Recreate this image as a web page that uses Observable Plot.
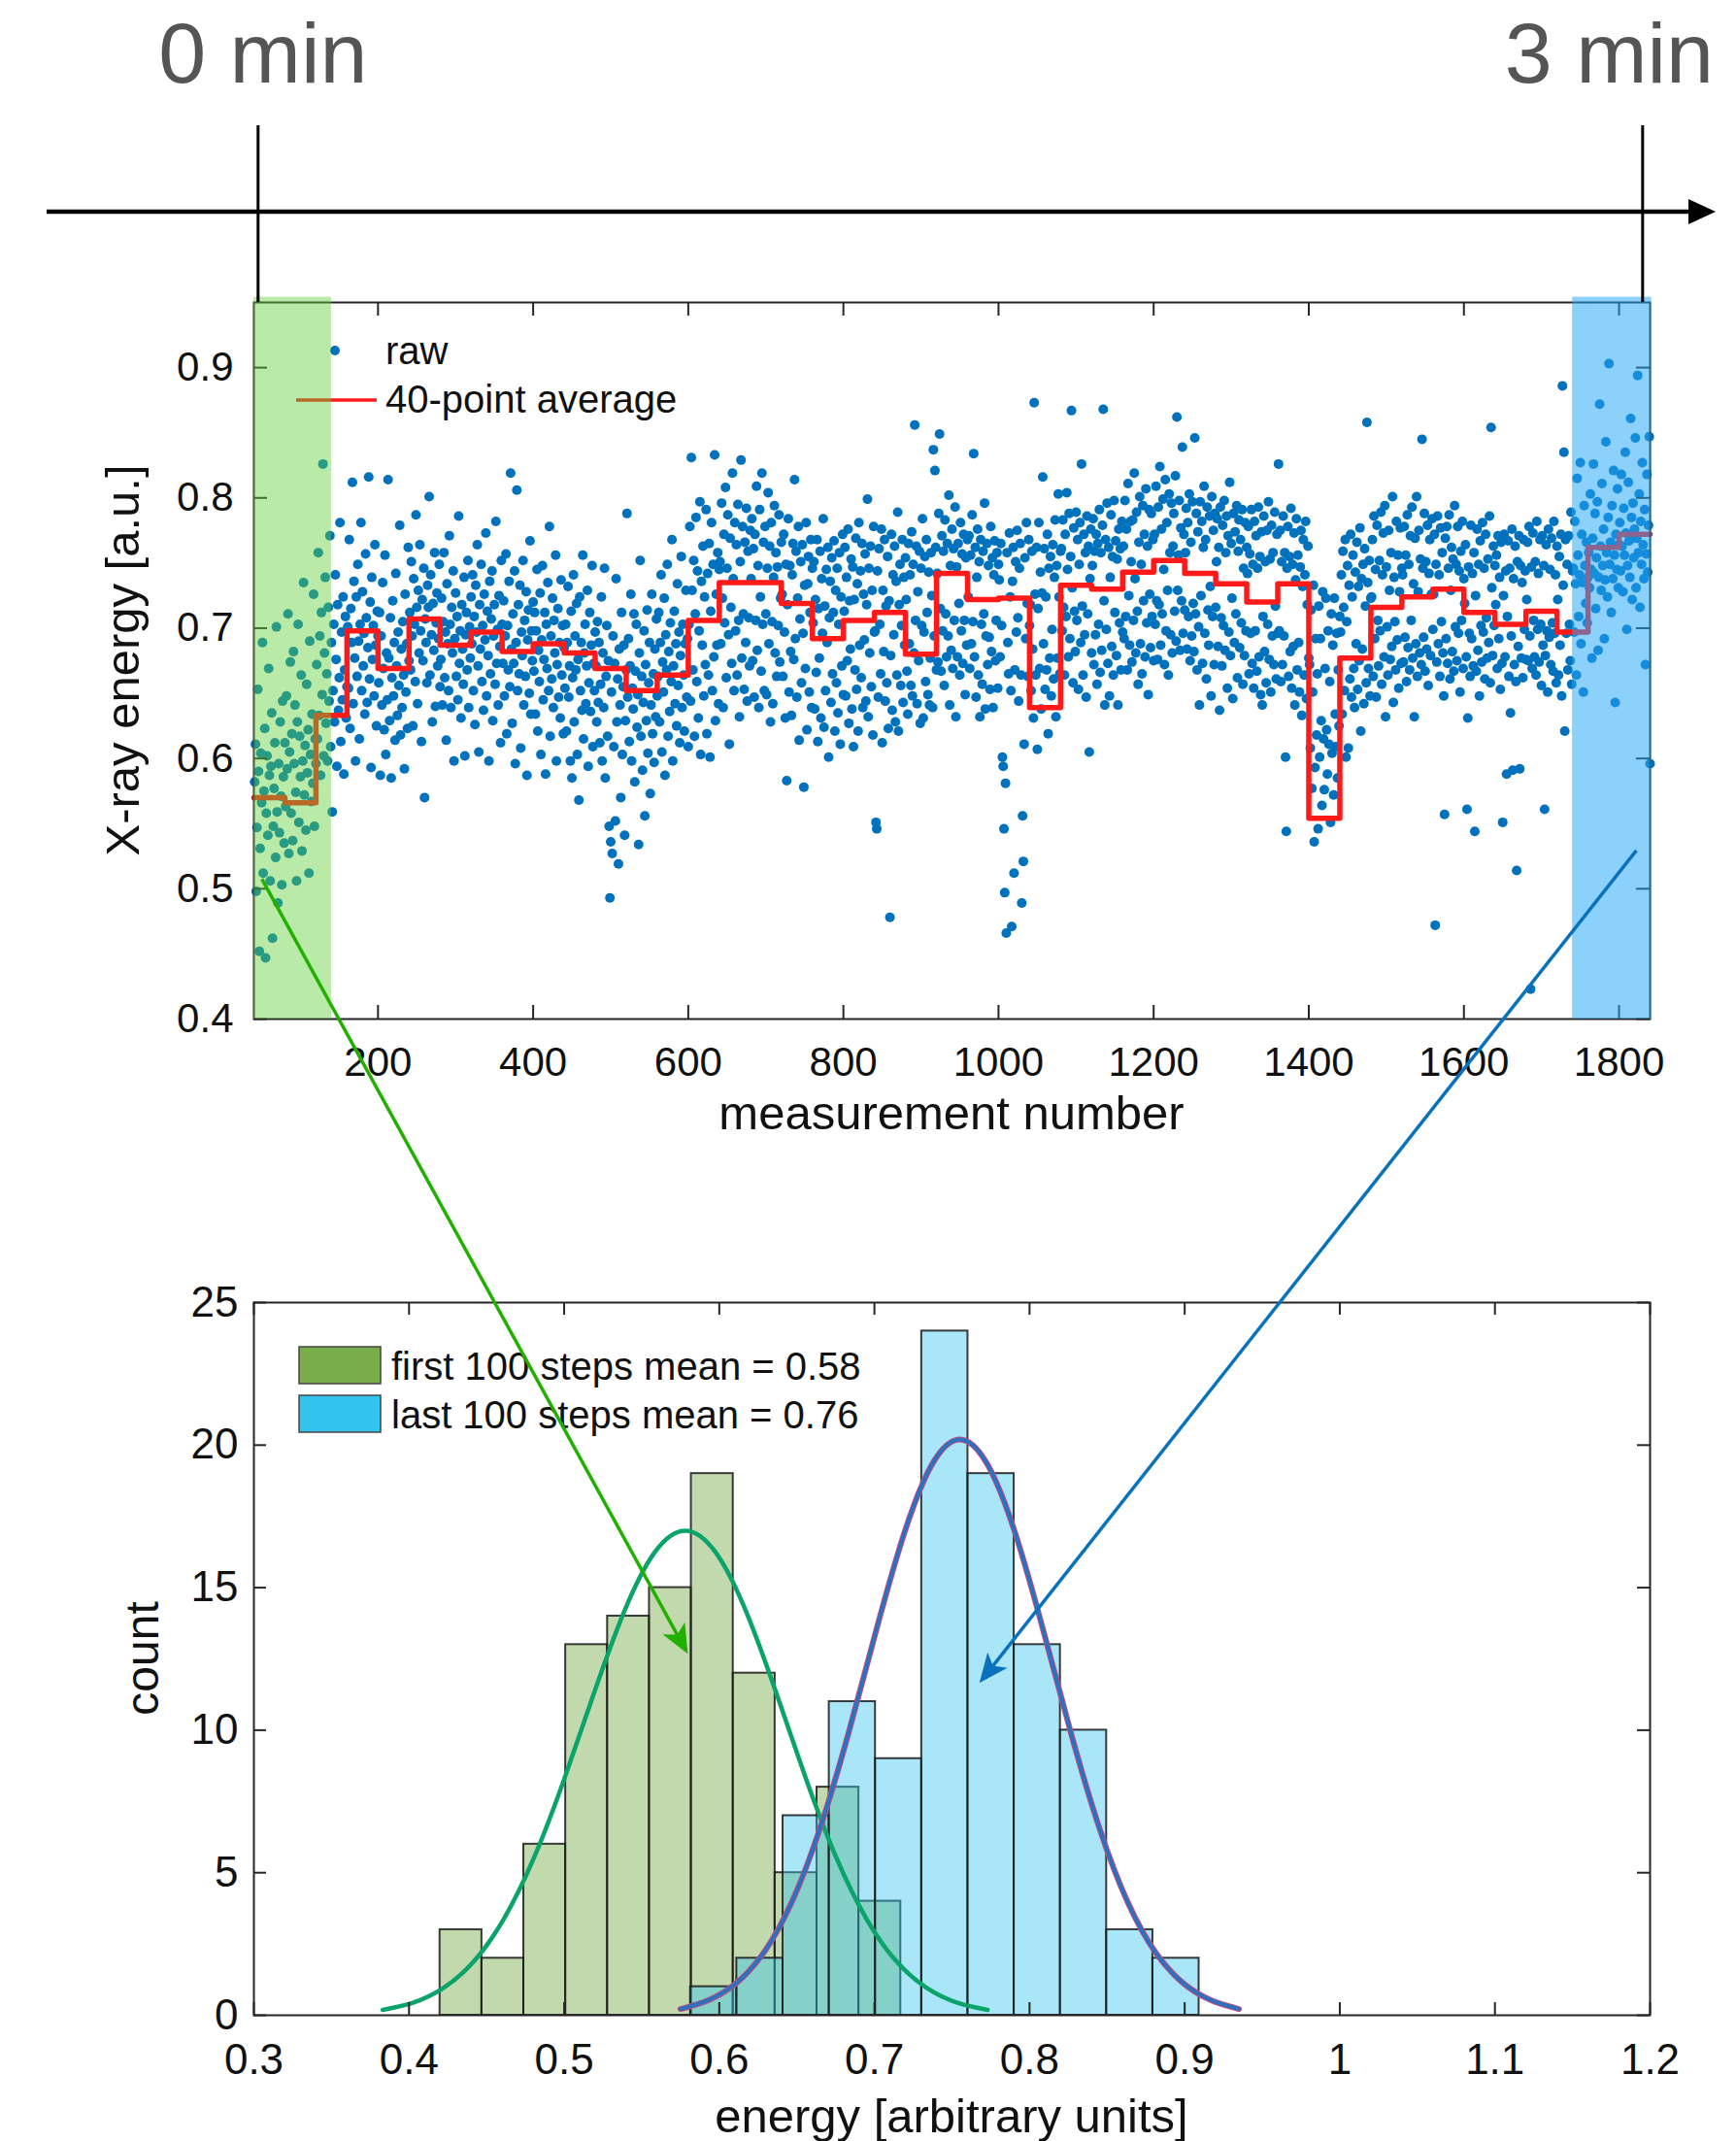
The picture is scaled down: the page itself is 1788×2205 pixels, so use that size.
<!DOCTYPE html>
<html><head><meta charset="utf-8">
<script src="https://cdn.jsdelivr.net/npm/d3@7"></script>
<script src="https://cdn.jsdelivr.net/npm/@observablehq/plot@0.6"></script>
<style>
html,body{margin:0;padding:0;background:#fff;overflow:hidden;}
#wrap{position:relative;width:1788px;height:2205px;font-family:"Liberation Sans",Arial,Helvetica,sans-serif;}
#wrap svg{position:absolute;left:0;}
</style></head><body><div id="wrap"></div>
<script>
// ---------- DATA ----------
// raw X-ray energy, one row per 40 measurements (thousandths), measurements 41..1840
const rawBlocks = [
"582 611 498 547 653 590 452 531 604 566 689 512 575 623 447 558 602 541 669 587 506 594 635 462 548 577 612 524 701 559 489 596 543 628 571 503 644 586 535 612",
"563 648 592 711 527 605 674 558 619 537 682 596 641 574 506 628 703 551 617 586 664 529 598 735 572 610 545 657 589 622 512 690 603 567 634 581 726 548 615 596",
"672 615 758 633 694 587 712 649 826 602 681 739 627 665 598 716 644 771 609 689 559 652 703 628 741 676 594 718 637 662 781 613 697 645 724 588 668 709 631 655",
"701 654 768 623 715 689 812 642 736 677 598 724 663 749 690 615 703 781 652 728 671 696 634 757 708 643 685 816 661 720 593 739 676 702 648 764 687 625 713 694",
"658 712 587 694 641 735 669 622 756 603 681 645 814 677 629 708 585 662 721 648 689 614 742 671 633 697 656 779 618 684 639 705 664 592 726 651 688 623 762 675",
"712 668 751 694 625 738 703 659 787 716 642 729 681 764 698 613 722 675 746 570 707 689 658 733 716 801 664 741 695 628 719 683 758 640 704 727 671 692 749 655",
"676 723 641 705 758 662 697 614 734 688 652 771 703 639 716 681 744 598 692 727 663 709 645 786 673 698 631 718 684 657 739 602 695 712 668 752 639 701 677 724",
"688 741 652 709 626 733 697 764 671 605 718 684 749 659 702 637 726 691 773 648 713 679 598 736 665 707 744 629 694 718 657 782 673 699 641 725 686 612 752 703",
"673 721 648 694 757 619 702 668 736 655 819 684 627 711 673 744 596 689 806 652 718 665 733 608 697 679 752 641 706 663 728 587 691 714 650 767 634 698 675 720",
"667 712 634 698 745 621 683 659 727 603 691 748 645 676 712 588 703 669 735 652 778 617 694 661 723 639 706 681 756 598 672 715 647 689 631 737 664 702 619 685",
"654 703 621 689 732 647 671 598 713 585 662 741 628 694 668 719 603 676 568 724 652 689 637 756 615 681 703 642 671 729 594 658 712 636 687 748 609 673 652 697",
"671 628 705 643 689 612 657 724 598 681 639 746 585 663 702 617 675 548 493 536 651 527 694 609 673 552 738 628 661 519 684 641 570 712 603 655 687 541 629 668",
"788 647 692 613 671 726 598 654 638 711 582 667 703 624 649 534 681 752 617 663 591 643 698 556 672 629 714 604 658 689 573 641 726 619 665 597 684 632 707 648",
"663 712 628 689 741 605 674 651 723 587 695 668 749 617 682 636 704 659 768 598 671 713 642 688 625 734 656 697 612 679 755 639 703 664 621 688 729 647 692 609",
"703 778 644 831 729 668 752 617 711 785 659 744 631 698 797 603 736 687 763 648 724 672 791 619 742 664 765 601 713 781 652 749 678 833 629 726 687 758 642 745",
"751 688 796 723 639 772 704 808 662 746 787 695 611 769 716 673 819 738 652 781 698 764 664 795 706 632 751 829 677 778 711 653 766 689 792 644 759 708 671 775",
"738 784 675 761 647 772 706 809 683 748 639 791 724 667 819 703 766 652 778 711 649 746 804 688 763 628 781 705 642 739 794 681 758 663 747 702 787 674 723 766",
"726 663 772 697 631 749 583 718 784 651 748 682 633 741 765 676 814 692 759 647 723 778 614 707 751 658 764 696 578 733 669 781 622 734 755 651 712 768 639 746",
"704 751 638 722 666 768 613 715 677 759 631 738 696 784 624 717 652 745 689 762 601 708 736 643 754 665 712 767 621 729 658 746 635 703 758 611 724 671 772 649",
"713 762 648 739 675 776 627 721 684 753 638 747 609 722 668 769 653 734 621 781 687 744 662 765 639 726 691 757 644 718 799 632 746 681 763 655 729 618 778 697",
"698 551 546 744 647 761 703 665 776 612 729 682 768 644 717 658 755 623 721 478 679 772 637 741 695 763 628 736 664 789 621 718 749 656 702 768 643 739 687 754",
"722 667 634 765 688 741 656 774 648 749 681 856 706 763 642 728 675 759 627 746 702 784 631 697 755 659 768 712 649 743 641 677 758 725 639 837 694 821 762 668",
"742 674 788 849 715 667 771 698 759 656 783 711 678 765 694 802 641 748 683 776 669 761 706 793 632 747 678 765 719 664 781 698 757 673 772 706 649 754 687 768",
"724 771 669 756 688 787 705 834 678 762 647 739 776 664 751 632 768 703 657 759 711 796 638 694 765 672 748 693 653 778 682 754 639 741 767 675 706 758 654 749",
"737 678 765 702 601 594 546 497 581 466 758 689 665 773 724 652 471 736 762 512 668 751 697 775 708 644 746 765 664 489 556 521 611 754 692 781 719 663 768 702",
"718 652 759 684 631 873 726 664 762 607 715 781 669 743 638 727 816 688 761 653 724 668 772 619 746 677 755 648 699 764 661 739 783 632 748 677 803 724 665 759",
"761 698 783 716 664 772 709 804 745 678 788 692 755 867 731 658 777 713 682 789 706 768 653 749 781 689 826 717 664 772 695 758 647 786 711 763 605 738 776 681",
"748 784 672 759 695 772 657 765 703 791 666 758 683 779 868 721 641 768 699 796 673 762 648 739 787 686 755 664 798 712 767 679 753 641 776 704 761 668 782 697",
"763 692 798 709 776 668 811 725 687 782 751 674 783 706 819 738 681 789 713 657 766 801 688 749 665 794 721 772 678 807 704 763 649 791 726 685 788 709 768 675",
"772 703 809 721 676 793 718 824 687 776 711 799 745 672 814 698 781 729 664 803 758 695 796 681 763 788 713 817 690 862 729 756 798 683 777 721 839 696 772 714",
"758 792 684 781 709 803 675 766 694 797 719 682 846 711 788 668 774 701 641 797 725 782 673 762 809 696 768 661 793 714 687 786 732 648 801 709 775 672 788 716",
"751 784 686 762 637 793 708 671 779 702 798 683 758 786 654 771 697 812 679 765 723 646 788 689 774 711 794 662 759 783 685 768 704 791 657 746 679 781 698 762",
"742 778 665 757 696 791 673 749 654 782 698 771 667 746 793 678 755 649 774 641 709 786 682 751 658 775 703 797 676 753 651 779 694 758 672 789 717 661 772 696",
"826 698 775 659 751 672 786 694 758 601 544 746 778 663 755 682 792 654 749 686 773 641 737 784 668 756 689 651 747 775 633 732 768 664 741 782 646 718 763 677",
"672 608 714 577 651 733 536 593 692 618 665 546 717 601 692 629 564 728 615 576 669 723 622 588 698 611 659 551 711 604 687 572 723 634 609 696 585 668 625 709",
"697 741 634 759 716 652 768 601 705 748 608 733 661 772 647 724 756 669 639 743 688 766 653 732 675 777 621 738 684 749 642 761 717 658 858 735 669 752 648 723",
"724 768 663 786 692 745 647 779 706 671 752 698 789 657 741 773 678 794 632 747 701 664 775 729 676 758 686 801 643 739 705 668 782 691 756 654 728 777 673 746",
"741 674 778 693 756 659 787 685 749 668 771 706 793 677 734 632 769 688 801 663 728 775 681 753 672 845 746 693 788 667 751 684 779 656 742 768 679 726 784 699",
"726 772 472 749 674 786 688 741 663 777 705 758 681 648 557 769 692 778 673 746 787 661 729 762 682 753 667 794 701 749 675 778 696 744 651 759 706 782 669 738",
"719 764 678 561 631 747 696 663 779 692 742 671 758 544 725 667 776 683 749 648 767 702 674 781 697 746 661 772 708 677 753 689 786 658 854 731 679 763 702 748",
"718 756 669 771 692 739 653 766 673 551 725 772 678 744 588 709 767 663 746 635 694 776 591 738 672 763 659 514 751 686 771 592 748 677 735 662 768 699 744 676",
"722 766 675 778 694 423 747 669 773 706 678 751 664 782 699 742 674 768 703 656 771 687 748 561 679 764 698 651 776 693 745 672 769 704 667 782 696 741 658 763",
"722 664 755 687 772 648 886 733 835 621 768 696 749 668 771 703 675 789 657 744 746 697 782 734 664 815 756 709 741 827 688 772 735 651 794 748 719 766 704 739",
"758 731 803 745 677 769 826 742 788 715 754 797 683 739 872 763 729 811 748 776 692 737 843 758 724 785 903 749 766 712 794 738 821 756 643 772 745 807 731 764",
"781 744 818 763 728 792 756 835 773 699 748 812 767 739 861 785 722 796 754 776 846 731 769 894 758 803 716 782 749 827 764 738 791 672 757 818 743 779 847 596"
];
// 40-point average (red step line), block starts 40, 80, ... 1800
const avgStarts = [40,80,120,160,200,240,280,320,360,400,440,480,520,560,600,640,680,720,760,800,840,880,920,960,1000,1040,1080,1120,1160,1200,1240,1280,1320,1360,1400,1440,1480,1520,1560,1600,1640,1680,1720,1760,1800];
const avgValues = [0.570,0.566,0.633,0.698,0.669,0.707,0.687,0.697,0.682,0.688,0.681,0.669,0.652,0.664,0.706,0.735,0.735,0.719,0.692,0.706,0.712,0.680,0.742,0.722,0.723,0.639,0.733,0.730,0.743,0.752,0.742,0.734,0.720,0.734,0.554,0.677,0.716,0.724,0.730,0.712,0.703,0.713,0.697,0.762,0.772];
const avgEnd = 1840;
// highlighted windows (measurement number)
const firstWindow = [40, 140];
const lastWindow = [1740, 1842];
// time labels
const timeLabels = ["0 min", "3 min"];
const timeMarks = [46, 1831];

// axis ticks
const topXTicks = [200,400,600,800,1000,1200,1400,1600,1800];
const topYTicks = [0.4,0.5,0.6,0.7,0.8,0.9];
const histXTicks = [0.3,0.4,0.5,0.6,0.7,0.8,0.9,1,1.1,1.2];
const histYTicks = [0,5,10,15,20,25];

// histograms
const greenEdges = [0.420,0.447,0.474,0.501,0.528,0.555,0.582,0.609,0.636,0.663,0.690,0.717];
const greenCounts = [3,2,6,13,14,15,19,12,5,8,4];
const blueEdges = [0.5815,0.6113,0.6411,0.6709,0.7007,0.7305,0.7603,0.7901,0.8199,0.8497,0.8795,0.9093];
const blueCounts = [1,2,7,11,9,24,19,13,10,3,2];
// fitted curves
const greenFitX = [0.383,0.4025,0.422,0.4415,0.461,0.4805,0.500,0.5195,0.539,0.5585,0.578,0.5975,0.617,0.6365,0.656,0.6755,0.695,0.7145,0.734,0.7535,0.773];
const greenFitY = [0.19,0.44,0.95,1.87,3.37,5.52,8.28,11.34,14.2,16.25,17,16.25,14.2,11.34,8.28,5.52,3.37,1.87,0.95,0.44,0.19];
const blueFitX = [0.575,0.593,0.611,0.629,0.647,0.665,0.683,0.701,0.719,0.737,0.755,0.773,0.791,0.809,0.827,0.845,0.863,0.881,0.899,0.917,0.935];
const blueFitY = [0.22,0.53,1.13,2.22,4.0,6.57,9.84,13.47,16.87,19.31,20.2,19.31,16.87,13.47,9.84,6.57,4.0,2.22,1.13,0.53,0.22];
const legendTop = ["raw", "40-point average"];
const legendHist = ["first 100 steps mean = 0.58", "last 100 steps mean = 0.76"];
// arrow anchors: [measurement, energy] in the top chart -> [energy, count] in the histogram
const greenArrow = {from: [51, 0.507], to: [0.580, 12.66]};
const blueArrow = {from: [1823, 0.529], to: [0.768, 11.64]};

// ---------- BUILD ----------
const FONT = '"Liberation Sans", Arial, Helvetica, sans-serif';
const W = 1788;
const points = rawBlocks.flatMap((s, k) => s.trim().split(/\s+/).map((t, i) => ({m: 41 + 40 * k + i, v: +t / 1000})));
const steps = avgStarts.map((m, i) => ({m, v: avgValues[i]})).concat([{m: avgEnd, v: avgValues[avgValues.length - 1]}]);
const greenBins = greenCounts.map((n, i) => ({x1: greenEdges[i], x2: greenEdges[i + 1], n}));
const blueBins = blueCounts.map((n, i) => ({x1: blueEdges[i], x2: blueEdges[i + 1], n}));
const greenFit = greenFitX.map((x, i) => ({x, y: greenFitY[i]}));
const blueFit = blueFitX.map((x, i) => ({x, y: blueFitY[i]}));

const AX = "#262626";
const TL = 14;
// top chart geometry
const T = {w: W, h: 1200, ml: 261, mr: 89, mt: 311, mb: 151};
const tIw = T.w - T.ml - T.mr, tIh = T.h - T.mt - T.mb;

const topPlot = Plot.plot({
  width: T.w, height: T.h,
  marginLeft: T.ml, marginRight: T.mr, marginTop: T.mt, marginBottom: T.mb,
  x: {domain: [40, 1840], label: null},
  y: {domain: [0.4, 0.95], label: null},
  style: {fontFamily: FONT, fontSize: "42px", color: "#111", background: "transparent", overflow: "visible"},
  marks: [
    Plot.dot(points, {x: "m", y: "v", r: 5, fill: "#0072bd"}),
    Plot.line(steps, {x: "m", y: "v", curve: "step-after", stroke: "#ff1a1a", strokeWidth: 5.5}),
    Plot.frame({stroke: AX, strokeWidth: 2}),
    Plot.tickX(topXTicks, {x: d => d, insetTop: tIh - TL, stroke: AX, strokeWidth: 2}),
    Plot.tickX(topXTicks, {x: d => d, insetBottom: tIh - TL, stroke: AX, strokeWidth: 2}),
    Plot.tickY(topYTicks, {y: d => d, insetRight: tIw - TL, stroke: AX, strokeWidth: 2}),
    Plot.tickY(topYTicks, {y: d => d, insetLeft: tIw - TL, stroke: AX, strokeWidth: 2}),
    Plot.axisX(topXTicks, {tickSize: 0, tickPadding: 29, fontSize: 42, label: null, tickFormat: d => String(d)}),
    Plot.axisY(topYTicks, {tickSize: 0, tickPadding: 21, fontSize: 42, label: null, tickFormat: d => d.toFixed(1)}),
    Plot.rect([firstWindow], {x1: d => d[0], x2: d => d[1], y1: 0.4, y2: 0.954, fill: "rgb(95,207,57)", fillOpacity: 0.44}),
    Plot.rect([lastWindow], {x1: d => d[0], x2: d => d[1], y1: 0.4, y2: 0.954, fill: "rgb(38,166,249)", fillOpacity: 0.53})
  ]
});
topPlot.style.top = "0px";
document.getElementById("wrap").appendChild(topPlot);

// legend of top chart (placed under the highlight windows)
{
  const svg = d3.select(topPlot);
  const g = svg.append("g").attr("font-family", FONT).attr("font-size", 40).attr("fill", "#111").attr("text-anchor", "start");
  g.append("circle").attr("cx", 345).attr("cy", 361).attr("r", 5).attr("fill", "#0072bd");
  g.append("text").attr("x", 397).attr("y", 375).text(legendTop[0]);
  g.append("line").attr("x1", 305).attr("x2", 388).attr("y1", 412).attr("y2", 412).attr("stroke", "#ff1a1a").attr("stroke-width", 3.5);
  g.append("text").attr("x", 397).attr("y", 425).text(legendTop[1]);
  g.append("text").attr("transform", `translate(143,${T.mt + tIh / 2}) rotate(-90)`).attr("text-anchor", "middle").attr("font-size", 49).text("X-ray energy [a.u.]");
  g.append("text").attr("x", T.ml + tIw / 2).attr("y", 1163).attr("text-anchor", "middle").attr("font-size", 49).text("measurement number");
  svg.selectAll('g[aria-label="rect"]').raise();
}

// histogram
const H = {w: W, h: 1005, ml: 261, mr: 89, mt: 141, mb: 130, top: 1200};
const hIw = H.w - H.ml - H.mr, hIh = H.h - H.mt - H.mb;
const histPlot = Plot.plot({
  width: H.w, height: H.h,
  marginLeft: H.ml, marginRight: H.mr, marginTop: H.mt, marginBottom: H.mb,
  x: {domain: [0.3, 1.2], label: null},
  y: {domain: [0, 25], label: null},
  style: {fontFamily: FONT, fontSize: "44px", color: "#111", background: "transparent", overflow: "visible"},
  marks: [
    Plot.rect(greenBins, {x1: "x1", x2: "x2", y1: 0, y2: "n", fill: "#78ad4a", fillOpacity: 0.46, stroke: "#1a1a1a", strokeWidth: 2, strokeOpacity: 0.85}),
    Plot.rect(blueBins, {x1: "x1", x2: "x2", y1: 0, y2: "n", fill: "#33c4ee", fillOpacity: 0.42, stroke: "#1a1a1a", strokeWidth: 2, strokeOpacity: 0.85}),
    Plot.line(greenFit, {x: "x", y: "y", curve: "natural", stroke: "#0aa36a", strokeWidth: 4.5}),
    Plot.line(blueFit, {x: "x", y: "y", curve: "natural", stroke: "#c0507a", strokeWidth: 6}),
    Plot.line(blueFit, {x: "x", y: "y", curve: "natural", stroke: "#2f6fc2", strokeWidth: 4}),
    Plot.frame({stroke: AX, strokeWidth: 2}),
    Plot.tickX(histXTicks, {x: d => d, insetTop: hIh - 13, stroke: AX, strokeWidth: 2}),
    Plot.tickX(histXTicks, {x: d => d, insetBottom: hIh - 13, stroke: AX, strokeWidth: 2}),
    Plot.tickY(histYTicks, {y: d => d, insetRight: hIw - 13, stroke: AX, strokeWidth: 2}),
    Plot.tickY(histYTicks, {y: d => d, insetLeft: hIw - 13, stroke: AX, strokeWidth: 2}),
    Plot.axisX(histXTicks, {tickSize: 0, tickPadding: 29, fontSize: 44, label: null, tickFormat: d => d3.format("~g")(d)}),
    Plot.axisY(histYTicks, {tickSize: 0, tickPadding: 16, fontSize: 44, label: null, tickFormat: d => String(d)})
  ]
});
histPlot.style.top = H.top + "px";
document.getElementById("wrap").appendChild(histPlot);

// overlay: time line, histogram legend and labels, arrows
const ov = d3.select("#wrap").append("svg")
  .attr("width", W).attr("height", 2205)
  .style("position", "absolute").style("top", "0px").style("left", "0px")
  .style("pointer-events", "none")
  .attr("font-family", FONT);

const tx = topPlot.scale("x"), ty = topPlot.scale("y");
const hx = histPlot.scale("x"), hy = histPlot.scale("y");

// time axis
{
  const xa = tx.apply(timeMarks[0]), xb = tx.apply(timeMarks[1]);
  ov.append("line").attr("x1", 48).attr("x2", 1744).attr("y1", 218).attr("y2", 218).attr("stroke", "#000").attr("stroke-width", 4.5);
  ov.append("polygon").attr("points", `1767,218 1739,205 1739,231`).attr("fill", "#000");
  ov.append("line").attr("x1", xa).attr("x2", xa).attr("y1", 129).attr("y2", T.mt).attr("stroke", "#000").attr("stroke-width", 3);
  ov.append("line").attr("x1", xb).attr("x2", xb).attr("y1", 129).attr("y2", T.mt).attr("stroke", "#000").attr("stroke-width", 3);
  ov.append("text").attr("x", xa + 5).attr("y", 85).attr("text-anchor", "middle").attr("font-size", 88).attr("fill", "#555").text(timeLabels[0]);
  ov.append("text").attr("x", 1765).attr("y", 85).attr("text-anchor", "end").attr("font-size", 88).attr("fill", "#555").text(timeLabels[1]);
}

// histogram legend + labels
{
  const g = ov.append("g").attr("fill", "#111");
  g.append("rect").attr("x", 308).attr("y", 1387).attr("width", 84).attr("height", 38).attr("fill", "#78ad4a").attr("stroke", "#444").attr("stroke-width", 1.5);
  g.append("rect").attr("x", 308).attr("y", 1437).attr("width", 84).attr("height", 38).attr("fill", "#33c4ee").attr("stroke", "#444").attr("stroke-width", 1.5);
  g.append("text").attr("x", 403).attr("y", 1421).attr("font-size", 40).text(legendHist[0]);
  g.append("text").attr("x", 403).attr("y", 1471).attr("font-size", 40).text(legendHist[1]);
  g.append("text").attr("transform", `translate(163,${H.top + H.mt + hIh / 2}) rotate(-90)`).attr("text-anchor", "middle").attr("font-size", 48).text("count");
  g.append("text").attr("x", H.ml + hIw / 2).attr("y", 2196).attr("text-anchor", "middle").attr("font-size", 49).text("energy [arbitrary units]");
}

// arrows linking windows to histograms
function arrow(a, color) {
  const x0 = tx.apply(a.from[0]), y0 = ty.apply(a.from[1]);
  const x1 = hx.apply(a.to[0]), y1 = hy.apply(a.to[1]) + H.top;
  const dx = x1 - x0, dy = y1 - y0, L = Math.hypot(dx, dy), ux = dx / L, uy = dy / L;
  const hl = 30, hw = 26;
  const bx = x1 - ux * hl, by = y1 - uy * hl;
  const nx = x1 - ux * hl * 0.75, ny = y1 - uy * hl * 0.75;
  ov.append("line").attr("x1", x0).attr("y1", y0).attr("x2", nx).attr("y2", ny).attr("stroke", color).attr("stroke-width", 3.5);
  ov.append("polygon").attr("points", `${x1},${y1} ${bx - uy * hw / 2},${by + ux * hw / 2} ${nx},${ny} ${bx + uy * hw / 2},${by - ux * hw / 2}`).attr("fill", color);
}
arrow(greenArrow, "#22b000");
arrow(blueArrow, "#0a72bd");
</script></body></html>
